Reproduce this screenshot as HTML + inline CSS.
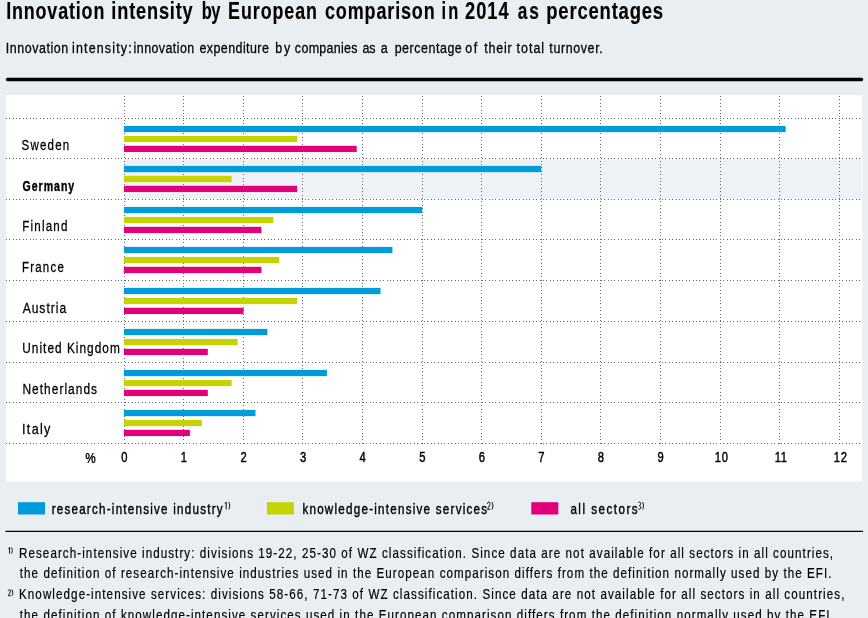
<!DOCTYPE html>
<html><head><meta charset="utf-8"><style>
html,body{margin:0;padding:0;background:#e9eef3;width:868px;height:618px;overflow:hidden}
svg{display:block;will-change:transform}
text{font-family:"Liberation Sans",sans-serif}
</style></head><body>
<svg width="868" height="618" viewBox="0 0 868 618" font-family="Liberation Sans, sans-serif">
<rect x="0" y="0" width="868" height="618" fill="#e9eef3"/>
<text transform="translate(6.18,18.70) scale(0.7617845117845117,1)" x="0" y="0" font-size="23.5" font-weight="bold" textLength="128.86" lengthAdjust="spacing" fill="#000" stroke="#000" stroke-width="0.15">Innovation</text>
<text transform="translate(111.37,18.70) scale(0.7728918779099845,1)" x="0" y="0" font-size="23.5" font-weight="bold" textLength="105.20" lengthAdjust="spacing" fill="#000" stroke="#000" stroke-width="0.15">intensity</text>
<text transform="translate(201.78,18.70) scale(0.7,1)" x="0" y="0" font-size="23.5" font-weight="bold" textLength="26.75" lengthAdjust="spacing" fill="#000" stroke="#000" stroke-width="0.15">by</text>
<text transform="translate(228.10,18.70) scale(0.7601476014760143,1)" x="0" y="0" font-size="23.5" font-weight="bold" textLength="116.93" lengthAdjust="spacing" fill="#000" stroke="#000" stroke-width="0.15">European</text>
<text transform="translate(325.00,18.70) scale(0.7650150150150151,1)" x="0" y="0" font-size="23.5" font-weight="bold" textLength="143.40" lengthAdjust="spacing" fill="#000" stroke="#000" stroke-width="0.15">comparison</text>
<text transform="translate(441.47,18.70) scale(0.7,1)" x="0" y="0" font-size="23.5" font-weight="bold" textLength="24.01" lengthAdjust="spacing" fill="#000" stroke="#000" stroke-width="0.15">in</text>
<text transform="translate(465.00,18.70) scale(0.7762906309751431,1)" x="0" y="0" font-size="23.5" font-weight="bold" textLength="56.27" lengthAdjust="spacing" fill="#000" stroke="#000" stroke-width="0.15">2014</text>
<text transform="translate(517.67,18.70) scale(0.7342256214149122,1)" x="0" y="0" font-size="23.5" font-weight="bold" textLength="28.86" lengthAdjust="spacing" fill="#000" stroke="#000" stroke-width="0.15">as</text>
<text transform="translate(546.26,18.70) scale(0.7865655471289281,1)" x="0" y="0" font-size="23.5" font-weight="bold" textLength="148.60" lengthAdjust="spacing" fill="#000" stroke="#000" stroke-width="0.15">percentages</text>
<text transform="translate(5.71,52.90) scale(0.86,1)" x="0" y="0" font-size="14.5" textLength="72.71" lengthAdjust="spacing" fill="#000" stroke="#000" stroke-width="0.28">Innovation</text>
<text transform="translate(71.99,52.90) scale(0.86,1)" x="0" y="0" font-size="14.5" textLength="69.34" lengthAdjust="spacing" fill="#000" stroke="#000" stroke-width="0.28">intensity:</text>
<text transform="translate(133.60,52.90) scale(0.86,1)" x="0" y="0" font-size="14.5" textLength="70.52" lengthAdjust="spacing" fill="#000" stroke="#000" stroke-width="0.28">innovation</text>
<text transform="translate(199.43,52.90) scale(0.86,1)" x="0" y="0" font-size="14.5" textLength="80.78" lengthAdjust="spacing" fill="#000" stroke="#000" stroke-width="0.28">expenditure</text>
<text transform="translate(275.16,52.90) scale(0.86,1)" x="0" y="0" font-size="14.5" textLength="17.66" lengthAdjust="spacing" fill="#000" stroke="#000" stroke-width="0.28">by</text>
<text transform="translate(294.87,52.90) scale(0.86,1)" x="0" y="0" font-size="14.5" textLength="72.89" lengthAdjust="spacing" fill="#000" stroke="#000" stroke-width="0.28">companies</text>
<text transform="translate(362.62,52.90) scale(0.86,1)" x="0" y="0" font-size="14.5" textLength="15.10" lengthAdjust="spacing" fill="#000" stroke="#000" stroke-width="0.28">as</text>
<text transform="translate(380.66,52.90) scale(0.86,1)" x="0" y="0" font-size="14.5" textLength="18.05" lengthAdjust="spacing" fill="#000" stroke="#000" stroke-width="0.28">a</text>
<text transform="translate(394.64,52.90) scale(0.86,1)" x="0" y="0" font-size="14.5" textLength="78.12" lengthAdjust="spacing" fill="#000" stroke="#000" stroke-width="0.28">percentage</text>
<text transform="translate(465.37,52.90) scale(0.86,1)" x="0" y="0" font-size="14.5" textLength="13.86" lengthAdjust="spacing" fill="#000" stroke="#000" stroke-width="0.28">of</text>
<text transform="translate(484.33,52.90) scale(0.86,1)" x="0" y="0" font-size="14.5" textLength="31.73" lengthAdjust="spacing" fill="#000" stroke="#000" stroke-width="0.28">their</text>
<text transform="translate(516.52,52.90) scale(0.86,1)" x="0" y="0" font-size="14.5" textLength="32.09" lengthAdjust="spacing" fill="#000" stroke="#000" stroke-width="0.28">total</text>
<text transform="translate(549.35,52.90) scale(0.86,1)" x="0" y="0" font-size="14.5" textLength="62.04" lengthAdjust="spacing" fill="#000" stroke="#000" stroke-width="0.28">turnover.</text>
<text transform="translate(21.60,150.00) scale(0.7675276752767526,1)" x="0" y="0" font-size="15" textLength="62.07" lengthAdjust="spacing" fill="#000" stroke="#000" stroke-width="0.28">Sweden</text>
<text transform="translate(22.44,190.50) scale(0.7040737893927748,1)" x="0" y="0" font-size="15" font-weight="bold" textLength="73.54" lengthAdjust="spacing" fill="#000" stroke="#000" stroke-width="0.4">Germany</text>
<text transform="translate(22.22,230.70) scale(0.7743902439024392,1)" x="0" y="0" font-size="15" textLength="58.33" lengthAdjust="spacing" fill="#000" stroke="#000" stroke-width="0.28">Finland</text>
<text transform="translate(21.94,271.90) scale(0.7644539614561028,1)" x="0" y="0" font-size="15" textLength="54.77" lengthAdjust="spacing" fill="#000" stroke="#000" stroke-width="0.28">France</text>
<text transform="translate(22.63,312.70) scale(0.8051391862955032,1)" x="0" y="0" font-size="15" textLength="54.04" lengthAdjust="spacing" fill="#000" stroke="#000" stroke-width="0.28">Austria</text>
<text transform="translate(22.32,352.60) scale(0.7906323185011709,1)" x="0" y="0" font-size="15" textLength="123.27" lengthAdjust="spacing" fill="#000" stroke="#000" stroke-width="0.28">United Kingdom</text>
<text transform="translate(22.41,393.90) scale(0.7948084054388135,1)" x="0" y="0" font-size="15" textLength="93.92" lengthAdjust="spacing" fill="#000" stroke="#000" stroke-width="0.28">Netherlands</text>
<text transform="translate(22.09,433.90) scale(0.84,1)" x="0" y="0" font-size="15" textLength="33.54" lengthAdjust="spacing" fill="#000" stroke="#000" stroke-width="0.28">Italy</text>
<text transform="translate(51.66,513.80) scale(0.8,1)" x="0" y="0" font-size="14.5" textLength="213.62" lengthAdjust="spacing" fill="#000" stroke="#000" stroke-width="0.4">research-intensive industry</text>
<text transform="translate(302.40,513.80) scale(0.8,1)" x="0" y="0" font-size="14.5" textLength="230.85" lengthAdjust="spacing" fill="#000" stroke="#000" stroke-width="0.4">knowledge-intensive services</text>
<text transform="translate(570.39,513.80) scale(0.8,1)" x="0" y="0" font-size="14.5" textLength="84.05" lengthAdjust="spacing" fill="#000" stroke="#000" stroke-width="0.4">all sectors</text>
<text transform="translate(19.03,557.70) scale(0.8,1)" x="0" y="0" font-size="14.5" textLength="1017.60" lengthAdjust="spacing" fill="#000" stroke="#000" stroke-width="0.2">Research-intensive industry: divisions 19-22, 25-30 of WZ classification. Since data are not available for all sectors in all countries,</text>
<text transform="translate(19.80,577.90) scale(0.8,1)" x="0" y="0" font-size="14.5" textLength="1014.66" lengthAdjust="spacing" fill="#000" stroke="#000" stroke-width="0.2">the definition of research-intensive industries used in the European comparison differs from the definition normally used by the EFI.</text>
<text transform="translate(19.03,598.70) scale(0.8,1)" x="0" y="0" font-size="14.5" textLength="1031.69" lengthAdjust="spacing" fill="#000" stroke="#000" stroke-width="0.2">Knowledge-intensive services: divisions 58-66, 71-73 of WZ classification. Since data are not available for all sectors in all countries,</text>
<text transform="translate(19.80,619.50) scale(0.8,1)" x="0" y="0" font-size="14.5" textLength="1017.52" lengthAdjust="spacing" fill="#000" stroke="#000" stroke-width="0.2">the definition of knowledge-intensive services used in the European comparison differs from the definition normally used by the EFI.</text>
<line x1="7.5" y1="79.5" x2="861.5" y2="79.5" stroke="#000" stroke-width="3.3" stroke-linecap="round"/>
<rect x="6" y="95" width="856.4" height="386.5" fill="#fff"/>
<rect x="124" y="159" width="738.4" height="40" fill="#eef2f6"/>
<g shape-rendering="crispEdges">
<line x1="5.8" y1="118.5" x2="862.4" y2="118.5" stroke="#686868" stroke-width="1" stroke-dasharray="1 2.4"/>
<line x1="5.8" y1="158.5" x2="862.4" y2="158.5" stroke="#686868" stroke-width="1" stroke-dasharray="1 2.4"/>
<line x1="5.8" y1="199.5" x2="862.4" y2="199.5" stroke="#686868" stroke-width="1" stroke-dasharray="1 2.4"/>
<line x1="5.8" y1="239.5" x2="862.4" y2="239.5" stroke="#686868" stroke-width="1" stroke-dasharray="1 2.4"/>
<line x1="5.8" y1="280.5" x2="862.4" y2="280.5" stroke="#686868" stroke-width="1" stroke-dasharray="1 2.4"/>
<line x1="5.8" y1="321.5" x2="862.4" y2="321.5" stroke="#686868" stroke-width="1" stroke-dasharray="1 2.4"/>
<line x1="5.8" y1="362.5" x2="862.4" y2="362.5" stroke="#686868" stroke-width="1" stroke-dasharray="1 2.4"/>
<line x1="5.8" y1="402.5" x2="862.4" y2="402.5" stroke="#686868" stroke-width="1" stroke-dasharray="1 2.4"/>
<line x1="5.8" y1="443.5" x2="862.4" y2="443.5" stroke="#686868" stroke-width="1" stroke-dasharray="1 2.4"/>
<line x1="124.5" y1="96" x2="124.5" y2="444" stroke="#686868" stroke-width="1" stroke-dasharray="1 2.4"/>
<line x1="183.5" y1="96" x2="183.5" y2="444" stroke="#686868" stroke-width="1" stroke-dasharray="1 2.4"/>
<line x1="243.5" y1="96" x2="243.5" y2="444" stroke="#686868" stroke-width="1" stroke-dasharray="1 2.4"/>
<line x1="302.5" y1="96" x2="302.5" y2="444" stroke="#686868" stroke-width="1" stroke-dasharray="1 2.4"/>
<line x1="362.5" y1="96" x2="362.5" y2="444" stroke="#686868" stroke-width="1" stroke-dasharray="1 2.4"/>
<line x1="422.5" y1="96" x2="422.5" y2="444" stroke="#686868" stroke-width="1" stroke-dasharray="1 2.4"/>
<line x1="481.5" y1="96" x2="481.5" y2="444" stroke="#686868" stroke-width="1" stroke-dasharray="1 2.4"/>
<line x1="541.5" y1="96" x2="541.5" y2="444" stroke="#686868" stroke-width="1" stroke-dasharray="1 2.4"/>
<line x1="600.5" y1="96" x2="600.5" y2="444" stroke="#686868" stroke-width="1" stroke-dasharray="1 2.4"/>
<line x1="660.5" y1="96" x2="660.5" y2="444" stroke="#686868" stroke-width="1" stroke-dasharray="1 2.4"/>
<line x1="720.5" y1="96" x2="720.5" y2="444" stroke="#686868" stroke-width="1" stroke-dasharray="1 2.4"/>
<line x1="779.5" y1="96" x2="779.5" y2="444" stroke="#686868" stroke-width="1" stroke-dasharray="1 2.4"/>
<line x1="839.5" y1="96" x2="839.5" y2="444" stroke="#686868" stroke-width="1" stroke-dasharray="1 2.4"/>
</g>
<rect x="123.9" y="125.90" width="661.73" height="6.25" fill="#009bdb"/>
<rect x="123.9" y="135.90" width="173.25" height="6.25" fill="#c5d400"/>
<rect x="123.9" y="145.80" width="232.82" height="6.25" fill="#e2007a"/>
<rect x="123.9" y="165.90" width="417.49" height="6.25" fill="#009bdb"/>
<rect x="123.9" y="175.90" width="107.73" height="6.25" fill="#c5d400"/>
<rect x="123.9" y="185.80" width="173.25" height="6.25" fill="#e2007a"/>
<rect x="123.9" y="206.90" width="298.35" height="6.25" fill="#009bdb"/>
<rect x="123.9" y="216.90" width="149.43" height="6.25" fill="#c5d400"/>
<rect x="123.9" y="226.80" width="137.51" height="6.25" fill="#e2007a"/>
<rect x="123.9" y="246.90" width="268.57" height="6.25" fill="#009bdb"/>
<rect x="123.9" y="256.90" width="155.38" height="6.25" fill="#c5d400"/>
<rect x="123.9" y="266.80" width="137.51" height="6.25" fill="#e2007a"/>
<rect x="123.9" y="287.90" width="256.65" height="6.25" fill="#009bdb"/>
<rect x="123.9" y="297.90" width="173.25" height="6.25" fill="#c5d400"/>
<rect x="123.9" y="307.80" width="119.64" height="6.25" fill="#e2007a"/>
<rect x="123.9" y="328.90" width="143.47" height="6.25" fill="#009bdb"/>
<rect x="123.9" y="338.90" width="113.68" height="6.25" fill="#c5d400"/>
<rect x="123.9" y="348.80" width="83.90" height="6.25" fill="#e2007a"/>
<rect x="123.9" y="369.90" width="203.04" height="6.25" fill="#009bdb"/>
<rect x="123.9" y="379.90" width="107.73" height="6.25" fill="#c5d400"/>
<rect x="123.9" y="389.80" width="83.90" height="6.25" fill="#e2007a"/>
<rect x="123.9" y="409.90" width="131.55" height="6.25" fill="#009bdb"/>
<rect x="123.9" y="419.90" width="77.94" height="6.25" fill="#c5d400"/>
<rect x="123.9" y="429.80" width="66.03" height="6.25" fill="#e2007a"/>
<text transform="translate(21.60,150.00) scale(0.7675276752767526,1)" x="0" y="0" font-size="15" textLength="62.07" lengthAdjust="spacing" fill="#000" stroke="#000" stroke-width="0.28">Sweden</text>
<text transform="translate(22.44,190.50) scale(0.7040737893927748,1)" x="0" y="0" font-size="15" font-weight="bold" textLength="73.54" lengthAdjust="spacing" fill="#000" stroke="#000" stroke-width="0.4">Germany</text>
<text transform="translate(22.22,230.70) scale(0.7743902439024392,1)" x="0" y="0" font-size="15" textLength="58.33" lengthAdjust="spacing" fill="#000" stroke="#000" stroke-width="0.28">Finland</text>
<text transform="translate(21.94,271.90) scale(0.7644539614561028,1)" x="0" y="0" font-size="15" textLength="54.77" lengthAdjust="spacing" fill="#000" stroke="#000" stroke-width="0.28">France</text>
<text transform="translate(22.63,312.70) scale(0.8051391862955032,1)" x="0" y="0" font-size="15" textLength="54.04" lengthAdjust="spacing" fill="#000" stroke="#000" stroke-width="0.28">Austria</text>
<text transform="translate(22.32,352.60) scale(0.7906323185011709,1)" x="0" y="0" font-size="15" textLength="123.27" lengthAdjust="spacing" fill="#000" stroke="#000" stroke-width="0.28">United Kingdom</text>
<text transform="translate(22.41,393.90) scale(0.7948084054388135,1)" x="0" y="0" font-size="15" textLength="93.92" lengthAdjust="spacing" fill="#000" stroke="#000" stroke-width="0.28">Netherlands</text>
<text transform="translate(22.09,433.90) scale(0.84,1)" x="0" y="0" font-size="15" textLength="33.54" lengthAdjust="spacing" fill="#000" stroke="#000" stroke-width="0.28">Italy</text>
<text transform="translate(85.2,462.6) scale(0.85,1)" font-weight="bold" font-size="14" fill="#000">%</text>
<text transform="translate(124.40,462.1) scale(0.8,1)" text-anchor="middle" font-size="14" fill="#000" stroke="#000" stroke-width="0.45" >0</text>
<text transform="translate(183.97,462.1) scale(0.8,1)" text-anchor="middle" font-size="14" fill="#000" stroke="#000" stroke-width="0.45" >1</text>
<text transform="translate(243.54,462.1) scale(0.8,1)" text-anchor="middle" font-size="14" fill="#000" stroke="#000" stroke-width="0.45" >2</text>
<text transform="translate(303.11,462.1) scale(0.8,1)" text-anchor="middle" font-size="14" fill="#000" stroke="#000" stroke-width="0.45" >3</text>
<text transform="translate(362.68,462.1) scale(0.8,1)" text-anchor="middle" font-size="14" fill="#000" stroke="#000" stroke-width="0.45" >4</text>
<text transform="translate(422.25,462.1) scale(0.8,1)" text-anchor="middle" font-size="14" fill="#000" stroke="#000" stroke-width="0.45" >5</text>
<text transform="translate(481.82,462.1) scale(0.8,1)" text-anchor="middle" font-size="14" fill="#000" stroke="#000" stroke-width="0.45" >6</text>
<text transform="translate(541.39,462.1) scale(0.8,1)" text-anchor="middle" font-size="14" fill="#000" stroke="#000" stroke-width="0.45" >7</text>
<text transform="translate(600.96,462.1) scale(0.8,1)" text-anchor="middle" font-size="14" fill="#000" stroke="#000" stroke-width="0.45" >8</text>
<text transform="translate(660.53,462.1) scale(0.8,1)" text-anchor="middle" font-size="14" fill="#000" stroke="#000" stroke-width="0.45" >9</text>
<text transform="translate(721.70,462.1) scale(0.8,1)" text-anchor="middle" font-size="14" fill="#000" stroke="#000" stroke-width="0.45" letter-spacing="1">10</text>
<text transform="translate(781.27,462.1) scale(0.8,1)" text-anchor="middle" font-size="14" fill="#000" stroke="#000" stroke-width="0.45" letter-spacing="1">11</text>
<text transform="translate(840.84,462.1) scale(0.8,1)" text-anchor="middle" font-size="14" fill="#000" stroke="#000" stroke-width="0.45" letter-spacing="1">12</text>
<rect x="18" y="502.2" width="27" height="12.3" fill="#009bdb"/>
<rect x="266.9" y="502.2" width="27" height="12.3" fill="#c5d400"/>
<rect x="531.3" y="502.2" width="27" height="12.3" fill="#e2007a"/>
<path transform="translate(224.60,502.00) scale(1.057)" d="M1.5,0 L1.5,7 M1.5,0.1 L0.1,1.4 M3.90,0 C5.10,1.6 5.10,5.4 3.90,7" fill="none" stroke="#000" stroke-width="0.899"/>
<path transform="translate(487.30,502.00) scale(1.057)" d="M0.2,1.7 C0.2,0.6 0.7,0 1.4,0 C2.1,0 2.6,0.6 2.6,1.6 C2.6,2.9 1.3,4.6 0.2,6.95 L2.8,6.95 M4.40,0 C5.60,1.6 5.60,5.4 4.40,7" fill="none" stroke="#000" stroke-width="0.899"/>
<path transform="translate(637.90,502.00) scale(1.057)" d="M0.3,0.7 C0.5,0.25 0.9,0 1.4,0 C2.1,0 2.6,0.6 2.6,1.7 C2.6,2.7 2.1,3.3 1.2,3.3 C2.2,3.3 2.7,4 2.7,5.1 C2.7,6.3 2.1,7 1.4,7 C0.9,7 0.4,6.7 0.2,6.2 M4.40,0 C5.60,1.6 5.60,5.4 4.40,7" fill="none" stroke="#000" stroke-width="0.899"/>
<line x1="5.5" y1="531.3" x2="863" y2="531.3" stroke="#000" stroke-width="1.3"/>
<path transform="translate(8.20,547.40) scale(0.886)" d="M1.5,0 L1.5,7 M1.5,0.1 L0.1,1.4 M3.70,0 C4.90,1.6 4.90,5.4 3.70,7" fill="none" stroke="#000" stroke-width="1.016"/>
<path transform="translate(8.20,589.60) scale(0.886)" d="M0.2,1.7 C0.2,0.6 0.7,0 1.4,0 C2.1,0 2.6,0.6 2.6,1.6 C2.6,2.9 1.3,4.6 0.2,6.95 L2.8,6.95 M4.20,0 C5.40,1.6 5.40,5.4 4.20,7" fill="none" stroke="#000" stroke-width="1.016"/>
</svg>
</body></html>
